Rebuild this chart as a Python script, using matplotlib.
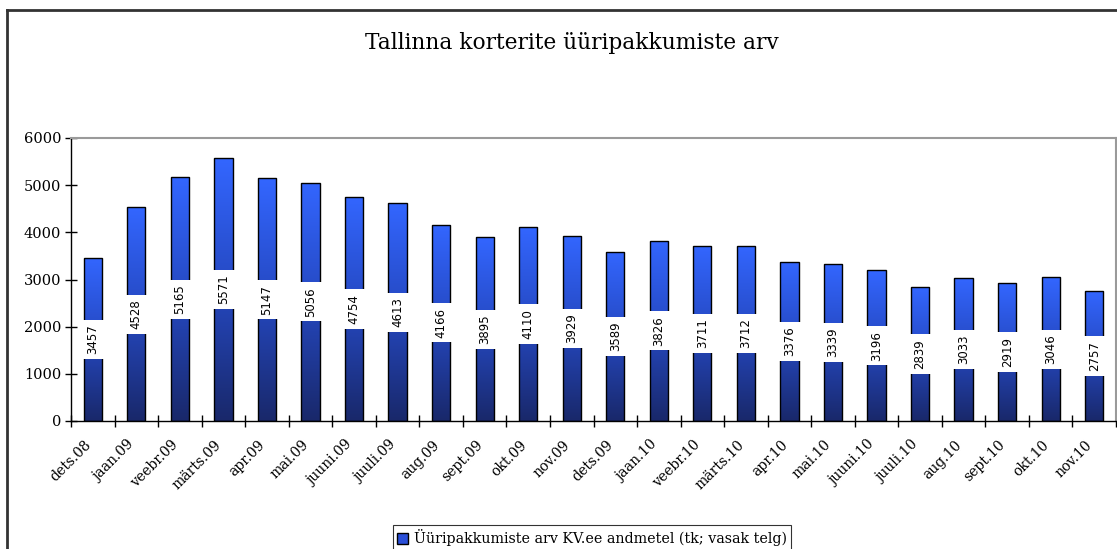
import numpy as np
import matplotlib.pyplot as plt
from matplotlib.colors import LinearSegmentedColormap
from matplotlib.lines import Line2D
from matplotlib.patches import Patch
from matplotlib.transforms import ScaledTranslation

# ---------- Andmed ----------
kuud = ["dets.08", "jaan.09", "veebr.09", "märts.09", "apr.09", "mai.09",
        "juuni.09", "juuli.09", "aug.09", "sept.09", "okt.09", "nov.09",
        "dets.09", "jaan.10", "veebr.10", "märts.10", "apr.10", "mai.10",
        "juuni.10", "juuli.10", "aug.10", "sept.10", "okt.10", "nov.10"]
pakkumised = [3457, 4528, 5165, 5571, 5147, 5056, 4754, 4613, 4166, 3895,
              4110, 3929, 3589, 3826, 3711, 3712, 3376, 3339, 3196, 2839,
              3033, 2919, 3046, 2757]

serif = "DejaVu Serif"
W, H = 1117, 549

fig = plt.figure(figsize=(W / 100, H / 100), dpi=100)
ax = fig.add_axes([71 / W, (H - 421) / H, 1045 / W, 283 / H])

x = np.arange(len(kuud))
bars = ax.bar(x, pakkumised, width=0.42, color="none", edgecolor="black",
              linewidth=1.0, zorder=3)

# gradient tulpades (tume all, hele üleval)
cmap = LinearSegmentedColormap.from_list("grad", ["#19286a", "#2548c0", "#3366ff"])
grad = np.linspace(0, 1, 256).reshape(-1, 1)
for b in bars:
    x0, w, h = b.get_x(), b.get_width(), b.get_height()
    im = ax.imshow(grad, cmap=cmap, aspect="auto", origin="lower",
                   extent=[x0, x0 + w, 0, h], zorder=2)
    im.set_clip_path(b)

# väärtuste sildid keskel valgel taustal
for xi, v in zip(x, pakkumised):
    ax.text(xi, v / 2, str(v), rotation=90, ha="center", va="center",
            fontsize=8.5, family="DejaVu Sans", zorder=4,
            bbox=dict(boxstyle="square,pad=0.4", fc="white", ec="none"))

ax.set_xlim(-0.5, len(kuud) - 0.5)
ax.set_ylim(0, 6000)
ax.set_yticks(range(0, 6001, 1000))
ax.set_yticklabels([str(t) for t in range(0, 6001, 1000)], family=serif, fontsize=10.5)
ax.tick_params(axis="y", direction="inout", length=8, width=1, pad=3)

ax.set_xticks(x)
ax.set_xticklabels(kuud, rotation=45, ha="right", rotation_mode="anchor",
                   family=serif, fontsize=10)
ax.tick_params(axis="x", length=0, pad=12)
nihe = ScaledTranslation(-9 / 100, 0, fig.dpi_scale_trans)
for lbl in ax.get_xticklabels():
    lbl.set_transform(lbl.get_transform() + nihe)
ax.set_xticks(np.arange(-0.5, len(kuud)), minor=True)
ax.tick_params(axis="x", which="minor", direction="inout", length=8, width=1)

for s in ["top", "right"]:
    ax.spines[s].set_color("#9a9a9a")
    ax.spines[s].set_linewidth(1.5)
for s in ["left", "bottom"]:
    ax.spines[s].set_color("black")
    ax.spines[s].set_linewidth(1.0)

fig.text(572 / W, 1 - 43 / H, "Tallinna korterite üüripakkumiste arv",
         ha="center", va="center", family=serif, fontsize=15.7)

# välimine raam
fig.add_artist(Line2D([7 / W, 7 / W], [0, 1 - 10 / H], transform=fig.transFigure,
                      color="#333333", lw=2))
fig.add_artist(Line2D([7 / W, 1], [1 - 10 / H, 1 - 10 / H], transform=fig.transFigure,
                      color="#333333", lw=2))

leg = fig.legend(handles=[Patch(facecolor="#2a4fd8", edgecolor="black",
                                label="Üüripakkumiste arv KV.ee andmetel (tk; vasak telg)")],
                 loc="center", bbox_to_anchor=(592 / W, 1 - 538 / H), frameon=True,
                 fancybox=False, prop={"family": serif, "size": 10.3},
                 handlelength=0.8, handleheight=0.8, handletextpad=0.4,
                 borderpad=0.3)
leg.get_frame().set_edgecolor("black")
leg.get_frame().set_linewidth(0.8)

fig.savefig("out.png", dpi=100)
